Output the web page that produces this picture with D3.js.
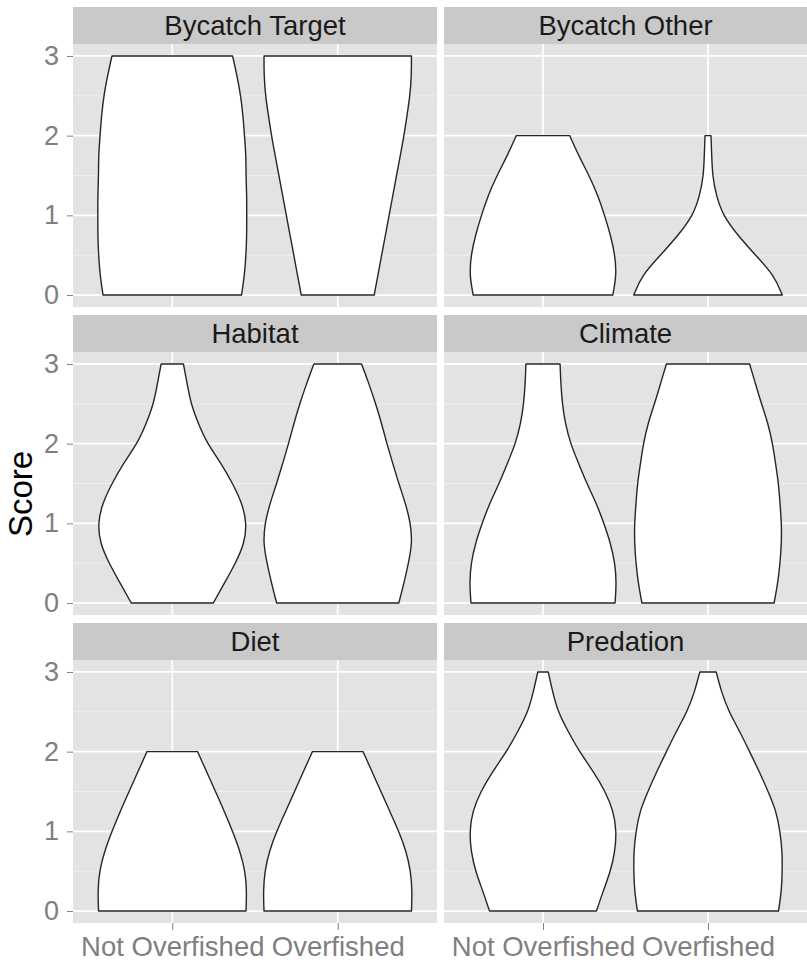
<!DOCTYPE html>
<html>
<head>
<meta charset="utf-8">
<script src="https://cdn.jsdelivr.net/npm/d3@7"></script>
<style>
  body { margin: 0; background: #fff; }
  text { font-family: "Liberation Sans", Arial, sans-serif; }
</style>
</head>
<body>
<svg id="chart"></svg>
<script>
// facet titles, in reading order (2 columns x 3 rows)
var facets = ["Bycatch Target", "Bycatch Other", "Habitat", "Climate", "Diet", "Predation"];
var groups = ["Not Overfished", "Overfished"];
var yTicks = [0, 1, 2, 3];
var yMinor = [0.5, 1.5, 2.5];

// score levels at which the violin width was read
var scoreTo3 = [0, 0.25, 0.5, 0.75, 1, 1.25, 1.5, 1.75, 2, 2.25, 2.5, 2.75, 3];
var scoreTo2 = [0, 0.25, 0.5, 0.75, 1, 1.25, 1.5, 1.75, 2];

// relative density (1 = widest violin) at each score level
var bycatchTargetNot  = [0.93, 0.97, 0.99, 1.00, 1.00, 1.00, 0.99, 0.99, 0.97, 0.95, 0.92, 0.87, 0.81];
var bycatchTargetOver = [0.49, 0.54, 0.59, 0.64, 0.69, 0.74, 0.79, 0.84, 0.89, 0.93, 0.97, 0.99, 0.99];
var bycatchOtherNot   = [0.94, 0.99, 0.97, 0.91, 0.83, 0.74, 0.62, 0.48, 0.36];
var bycatchOtherOver  = [1.00, 0.89, 0.64, 0.40, 0.20, 0.11, 0.06, 0.05, 0.04];
var habitatNot        = [0.55, 0.70, 0.85, 0.97, 1.00, 0.94, 0.81, 0.66, 0.47, 0.35, 0.25, 0.20, 0.15];
var habitatOver       = [0.82, 0.89, 0.95, 1.00, 0.98, 0.91, 0.82, 0.74, 0.66, 0.59, 0.51, 0.42, 0.32];
var climateNot        = [0.97, 0.99, 0.97, 0.91, 0.82, 0.72, 0.59, 0.48, 0.37, 0.30, 0.26, 0.24, 0.23];
var climateOver       = [0.89, 0.94, 0.97, 0.99, 0.99, 0.97, 0.95, 0.91, 0.87, 0.81, 0.72, 0.64, 0.56];
var dietNot           = [0.99, 1.00, 0.98, 0.91, 0.81, 0.70, 0.58, 0.46, 0.34];
var dietOver          = [0.99, 1.00, 0.98, 0.92, 0.82, 0.70, 0.58, 0.46, 0.34];
var predationNot      = [0.72, 0.81, 0.91, 0.97, 0.99, 0.95, 0.84, 0.68, 0.49, 0.34, 0.20, 0.13, 0.07];
var predationOver     = [0.95, 0.99, 1.00, 1.00, 0.97, 0.92, 0.81, 0.69, 0.56, 0.43, 0.28, 0.18, 0.11];

var violins = [
  [[scoreTo3, bycatchTargetNot], [scoreTo3, bycatchTargetOver]],
  [[scoreTo2, bycatchOtherNot], [scoreTo2, bycatchOtherOver]],
  [[scoreTo3, habitatNot], [scoreTo3, habitatOver]],
  [[scoreTo3, climateNot], [scoreTo3, climateOver]],
  [[scoreTo2, dietNot], [scoreTo2, dietOver]],
  [[scoreTo3, predationNot], [scoreTo3, predationOver]]
];

var width = 807, height = 966;
var colLeft = [73, 444], colRight = [437, 807];
var topPad = 7, stripH = 37, panelH = 263, rowGap = 8;

var svg = d3.select("#chart")
  .attr("width", width)
  .attr("height", height);

facets.forEach(function(name, i) {
  var col = i % 2, row = Math.floor(i / 2);
  var stripTop = topPad + row * (stripH + panelH + rowGap);
  var panelTop = stripTop + stripH;
  var x0 = colLeft[col], x1 = colRight[col];

  var x = d3.scalePoint().domain(groups).range([x0, x1]).padding(0.6);
  var y = d3.scaleLinear().domain([-0.15, 3.15]).range([panelTop + panelH, panelTop]);
  var w = d3.scaleLinear().domain([0, 1]).range([0, 0.45 * x.step()]);

  var g = svg.append("g");

  // panel background
  g.append("rect")
    .attr("x", x0).attr("y", panelTop)
    .attr("width", x1 - x0).attr("height", panelH)
    .attr("fill", "#e3e3e3");

  // grid
  g.selectAll(".minor").data(yMinor).enter().append("line")
    .attr("x1", x0).attr("x2", x1)
    .attr("y1", function(d) { return y(d); })
    .attr("y2", function(d) { return y(d); })
    .attr("stroke", "#f1f1f1").attr("stroke-width", 0.9);
  g.selectAll(".major").data(yTicks).enter().append("line")
    .attr("x1", x0).attr("x2", x1)
    .attr("y1", function(d) { return y(d); })
    .attr("y2", function(d) { return y(d); })
    .attr("stroke", "#fff").attr("stroke-width", 1.7);
  g.selectAll(".vmajor").data(groups).enter().append("line")
    .attr("x1", function(d) { return x(d); })
    .attr("x2", function(d) { return x(d); })
    .attr("y1", panelTop).attr("y2", panelTop + panelH)
    .attr("stroke", "#fff").attr("stroke-width", 1.7);

  // strip
  g.append("rect")
    .attr("x", x0).attr("y", stripTop)
    .attr("width", x1 - x0).attr("height", stripH)
    .attr("fill", "#c9c9c9");
  g.append("text")
    .attr("x", (x0 + x1) / 2)
    .attr("y", stripTop + stripH / 2)
    .attr("dy", "0.35em")
    .attr("text-anchor", "middle")
    .attr("font-size", 27.5)
    .attr("fill", "#1a1a1a")
    .text(name);

  // violins
  violins[i].forEach(function(v, j) {
    var pts = v[0].map(function(s, k) { return { score: s, dens: v[1][k] }; });
    var cx = x(groups[j]);
    var area = d3.area()
      .y(function(d) { return y(d.score); })
      .x0(function(d) { return cx - w(d.dens); })
      .x1(function(d) { return cx + w(d.dens); })
      .curve(d3.curveBasis);
    g.append("path")
      .datum(pts)
      .attr("d", area)
      .attr("fill", "#fff")
      .attr("stroke", "#262626")
      .attr("stroke-width", 1.4)
      .attr("stroke-linejoin", "round");
  });

  // y axis on left column
  if (col === 0) {
    var ya = g.append("g")
      .attr("transform", "translate(" + x0 + ",0)")
      .call(d3.axisLeft(y).tickValues(yTicks).tickFormat(d3.format("d")).tickSize(6).tickPadding(8));
    ya.select(".domain").remove();
    ya.selectAll("line").attr("stroke", "#7f7f7f");
    ya.selectAll("text").attr("font-size", 27).attr("fill", "#7f7f7f")
      .style("font-family", "'Liberation Sans', Arial, sans-serif");
  }
  // x axis on bottom row
  if (row === 2) {
    var xa = g.append("g")
      .attr("transform", "translate(0," + (panelTop + panelH) + ")")
      .call(d3.axisBottom(x).tickSize(7).tickPadding(6));
    xa.select(".domain").remove();
    xa.selectAll("line").attr("stroke", "#7f7f7f");
    xa.selectAll("text").attr("font-size", 27.5).attr("fill", "#7f7f7f")
      .style("font-family", "'Liberation Sans', Arial, sans-serif");
  }
});

svg.append("text")
  .attr("transform", "translate(32,494) rotate(-90)")
  .attr("text-anchor", "middle")
  .attr("font-size", 33)
  .attr("fill", "#000")
  .text("Score");
</script>
</body>
</html>
